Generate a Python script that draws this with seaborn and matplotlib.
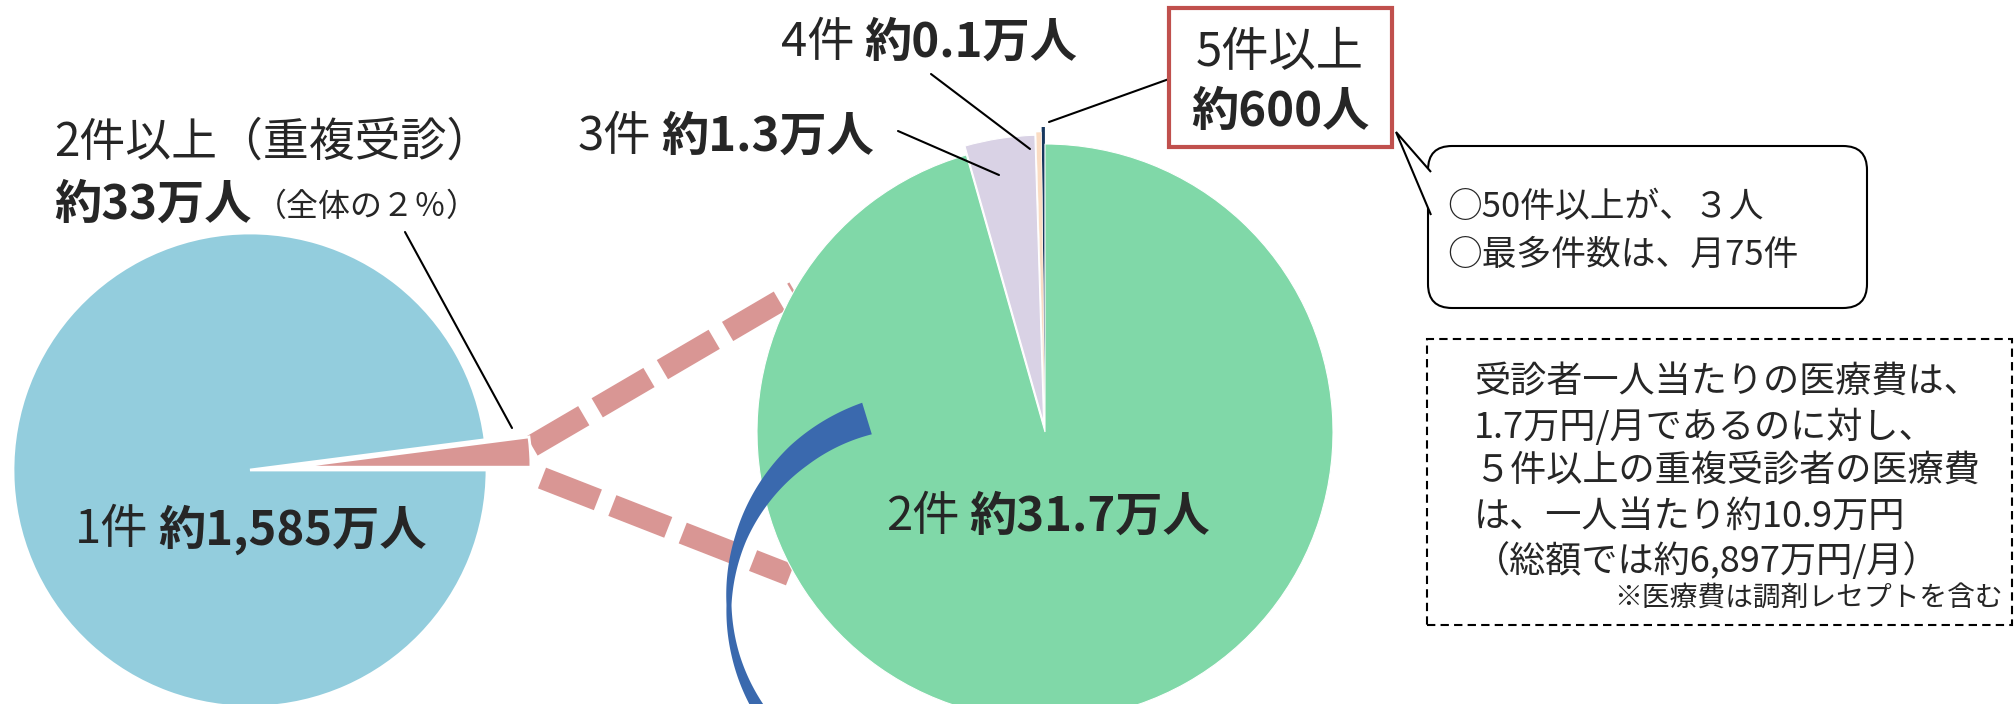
import numpy as np
import matplotlib
matplotlib.use("Agg")
import matplotlib.pyplot as plt
from matplotlib.patches import Polygon, FancyBboxPatch, Rectangle
import seaborn as sns

W, H = 2014, 704

# 月間受診件数別の受診者数（万人）
left_groups = ['2件以上', '1件']
left_values = [33, 1585]
right_groups = ['5件以上', '4件', '3件', '2件']
right_values = [0.06, 0.1, 1.3, 31.7]
left_colors = ['#D99694', '#93CDDD']
right_colors = ['#17375E', '#FADCC3', '#D9D2E5', '#80D8A8']

bubble_lines = ['○50件以上が、３人', '○最多件数は、月75件']
box_lines = ['受診者一人当たりの医療費は、', '1.7万円/月であるのに対し、',
             '５件以上の重複受診者の医療費', 'は、一人当たり約10.9万円',
             '（総額では約6,897万円/月）']
box_note = '※医療費は調剤レセプトを含む'

sns.set_theme(style='white')
plt.rcParams['font.family'] = ['Noto Sans CJK JP', 'DejaVu Sans']

fig = plt.figure(figsize=(W / 100, H / 100), dpi=100)
ax = fig.add_axes([0, 0, 1, 1])


def Y(y):
    # picture rows run downwards, axes y upwards
    return H - y


# ---- pies (explode is in data units here, i.e. pixels) ----
ax.pie(left_values, colors=left_colors, startangle=0, explode=[44, 0],
       center=(250, Y(470)), radius=237, frame=True,
       wedgeprops=dict(edgecolor='white', linewidth=2))
wedges, _ = ax.pie(right_values, colors=right_colors, startangle=90,
                   explode=[17, 12, 9, 0], center=(1045, Y(432)), radius=288,
                   frame=True, wedgeprops=dict(edgecolor='white', linewidth=0.8))
wedges[0].set_linewidth(0)   # keep the 5件以上 sliver visible
wedges[1].set_linewidth(0.3)

# dashed zoom lines from the 2件以上 slice to the right pie
for (x0, y0), (x1, y1) in [((532, 446), (795, 292)), ((542, 478), (790, 575))]:
    ax.plot([x0, x1], [Y(y0), Y(y1)], color='#D99694', lw=16,
            dashes=(2.7, 0.7), dash_capstyle='butt', zorder=0.5)

# curved blue arrow band
ang = np.radians(np.linspace(107, 215, 200))
wid = np.interp(np.degrees(ang), [107, 130, 160, 180, 195, 215], [33, 26, 12, 5, 8, 13])
cx, cy, R = 924, Y(605), 195
outer = np.c_[cx + (R + wid / 2) * np.cos(ang), cy + (R + wid / 2) * np.sin(ang)]
inner = np.c_[cx + (R - wid / 2) * np.cos(ang), cy + (R - wid / 2) * np.sin(ang)]
ax.add_patch(Polygon(np.vstack([outer, inner[::-1]]), closed=True,
                     facecolor='#3A69AE', edgecolor='none', zorder=3))


# ---- labels ----
def label(x, y, reg, bold, size=34):
    t = ax.text(x, Y(y), reg, fontsize=size, va='center', ha='left', zorder=5)
    ax.annotate(bold, xy=(1, 0.5), xycoords=t, xytext=(7, 0), textcoords='offset points',
                fontsize=size, fontweight='bold', va='center', ha='left', zorder=5)


ax.text(54, Y(142), '2件以上（重複受診）', fontsize=33, va='center', ha='left')
ax.text(54, Y(205), '約33万人', fontsize=34, fontweight='bold', va='center', ha='left')
ax.text(255, Y(207), '（全体の２％）', fontsize=23, va='center', ha='left')
label(75, 530, '1件', '約1,585万人')
label(886, 517, '2件', '約31.7万人')
label(578, 137, '3件', '約1.3万人')
label(781, 43, '4件', '約0.1万人')

for (x0, y0), (x1, y1) in [((405, 232), (512, 428)), ((898, 131), (999, 175)),
                           ((931, 74), (1030, 149)), ((1049, 122), (1169, 79))]:
    ax.plot([x0, x1], [Y(y0), Y(y1)], color='black', lw=1.5, zorder=4)

# 5件以上 box
ax.add_patch(Rectangle((1169, Y(147)), 223, 139, facecolor='white',
                       edgecolor='#C0504D', lw=3, zorder=4))
ax.text(1280, Y(53), '5件以上', fontsize=34, ha='center', va='center', zorder=5)
ax.text(1280, Y(112), '約600人', fontsize=34, fontweight='bold', ha='center', va='center', zorder=5)

# speech bubble
ax.add_patch(FancyBboxPatch((1428, Y(308)), 439, 162,
                            boxstyle='round,pad=0,rounding_size=24',
                            facecolor='white', edgecolor='black', lw=1.5, zorder=4))
ax.add_patch(Polygon([(1431, Y(172)), (1396, Y(132)), (1431, Y(215))], closed=False,
                     facecolor='white', edgecolor='black', lw=1.5, zorder=4.5))
for i, s in enumerate(bubble_lines):
    ax.text(1447, Y(208 + 47 * i), s, fontsize=25, ha='left', va='center', zorder=5)

# dashed note box
ax.add_patch(Rectangle((1427, Y(625)), 585, 286, fill=False, edgecolor='black',
                       lw=1.5, ls=(0, (4, 2.5)), zorder=4))
for i, s in enumerate(box_lines):
    ax.text(1474, Y(383 + 44.5 * i), s, fontsize=26, ha='left', va='center', zorder=5)
ax.text(2003, Y(598), box_note, fontsize=20, ha='right', va='center', zorder=5)

ax.set_xlim(0, W)
ax.set_ylim(0, H)
ax.set_aspect('equal')
ax.axis('off')
fig.savefig('out.png', dpi=100, facecolor='white')
